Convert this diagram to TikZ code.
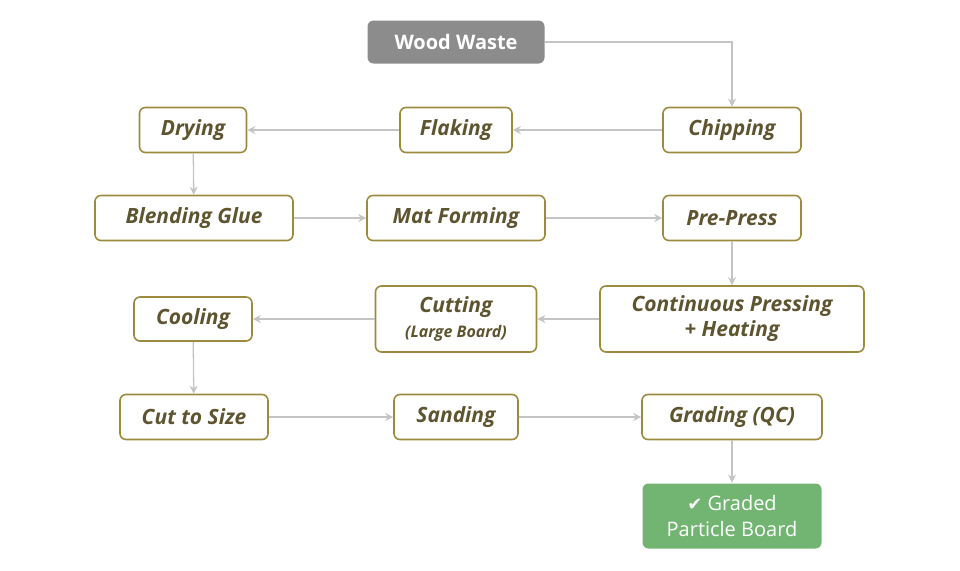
\documentclass[tikz,border=0pt]{standalone}
\usepackage{fontspec}
\setmainfont{Open Sans}
\newfontfamily\symf{DejaVu Sans}
\usetikzlibrary{arrows.meta}
\definecolor{olive}{HTML}{9C8A3E}
\definecolor{txt}{HTML}{5E5530}
\definecolor{arr}{HTML}{C4C4C4}
\definecolor{grn}{HTML}{72B472}
\definecolor{gry}{HTML}{8C8C8C}
\begin{document}
\begin{tikzpicture}[x=1pt,y=-1pt,
 box/.style={draw=olive,line width=1.6pt,rounded corners=6pt,fill=white,align=center,
   font=\bfseries\itshape\fontsize{21}{25}\selectfont,text=txt,inner sep=0pt},
 arrow/.style={draw=arr,line width=1.3pt,-{Stealth[length=8pt,width=8pt]}}]
\useasboundingbox (0,0) rectangle (960,570);
\node[box,draw=none,fill=gry,text=white,font=\bfseries\fontsize{20}{25}\selectfont,minimum width=177pt,minimum height=43pt] (ww) at (456,42) {Wood Waste};
\node[box,minimum width=138pt,minimum height=45pt] (chip) at (732,130) {Chipping};
\node[box,minimum width=112pt,minimum height=45pt] (flak) at (456,130) {Flaking};
\node[box,minimum width=107pt,minimum height=45pt] (dry) at (193,130) {Drying};
\node[box,minimum width=198pt,minimum height=45pt] (blend) at (194,218) {Blending Glue};
\node[box,minimum width=178pt,minimum height=45pt] (mat) at (456,218) {Mat Forming};
\node[box,minimum width=138pt,minimum height=45pt] (pre) at (732,218) {Pre-Press};
\node[box,minimum width=264pt,minimum height=66pt] (cont) at (732,319) {Continuous Pressing\\+ Heating};
\node[box,minimum width=161pt,minimum height=66pt] (cut) at (456,319) {Cutting\\{\fontsize{16}{18}\selectfont(Large Board)}};
\node[box,minimum width=118pt,minimum height=44pt] (cool) at (193,319) {Cooling};
\node[box,minimum width=148pt,minimum height=45pt] (size) at (194,417) {Cut to Size};
\node[box,minimum width=124pt,minimum height=45pt] (sand) at (456,417) {Sanding};
\node[box,minimum width=180pt,minimum height=45pt] (grad) at (732,417) {Grading (QC)};
\node[box,draw=none,fill=grn,text=white,font=\fontsize{20}{26}\selectfont,minimum width=179pt,minimum height=65pt] (pb) at (732,516) {{\symf\fontsize{18}{18}\selectfont ✔} Graded\\Particle Board};
\draw[arrow] (ww.east) -- ++(6,0) -| (chip.north);
\draw[arrow] (chip) -- (flak);
\draw[arrow] (flak) -- (dry);
\draw[arrow] (dry) -- (blend);
\draw[arrow] (blend) -- (mat);
\draw[arrow] (mat) -- (pre);
\draw[arrow] (pre) -- (cont);
\draw[arrow] (cont) -- (cut);
\draw[arrow] (cut) -- (cool);
\draw[arrow] (cool) -- (size);
\draw[arrow] (size) -- (sand);
\draw[arrow] (sand) -- (grad);
\draw[arrow] (grad) -- (pb);
\end{tikzpicture}
\end{document}
